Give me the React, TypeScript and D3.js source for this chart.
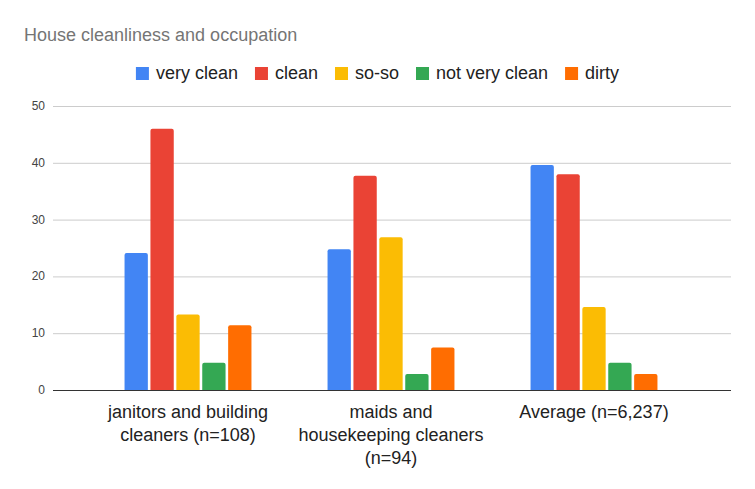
import React, { useEffect, useRef } from "react";
import * as d3 from "d3";

const categories = [
  ["janitors and building", "cleaners (n=108)"],
  ["maids and", "housekeeping cleaners", "(n=94)"],
  ["Average (n=6,237)"],
];
const seriesNames = ["very clean", "clean", "so-so", "not very clean", "dirty"];
const veryClean = [24.1, 24.8, 39.6];
const clean = [46.0, 37.7, 38.0];
const soSo = [13.3, 26.9, 14.6];
const notVeryClean = [4.8, 2.8, 4.8];
const dirty = [11.4, 7.5, 2.8];
const yTicks = [0, 10, 20, 30, 40, 50];
const colors = ["#4285F4", "#EA4335", "#FBBC04", "#34A853", "#FF6D01"];

const W = 755;
const H = 489;
const FONT = "'Liberation Sans', Arial, sans-serif";

// rounded top corners only
const barPath = (x, y, w, h, r) => {
  const rr = Math.min(r, h, w / 2);
  return `M${x},${y + h}V${y + rr}Q${x},${y} ${x + rr},${y}H${x + w - rr}Q${x + w},${y} ${x + w},${y + rr}V${y + h}Z`;
};

const App = () => {
  const ref = useRef(null);

  useEffect(() => {
    const svg = d3.select(ref.current);
    svg.selectAll("*").remove();

    const values = [veryClean, clean, soSo, notVeryClean, dirty];
    const groups = categories.map((c, i) => i);

    const left = 53, right = 731, top = 106, bottom = 390;

    const y = d3.scaleLinear().domain([0, 50]).range([bottom, top]);
    const x0 = d3.scaleBand().domain(groups).range([86.5, 695.5]).padding(0);
    const step = x0.bandwidth();
    const inner = 129.5;
    const x1 = d3
      .scaleBand()
      .domain(seriesNames)
      .range([(step - inner) / 2, (step + inner) / 2])
      .paddingInner(0.1)
      .paddingOuter(0.05);

    // title
    svg
      .append("text")
      .attr("x", 24)
      .attr("y", 41)
      .attr("font-family", FONT)
      .attr("font-size", 18)
      .attr("fill", "#757575")
      .text("House cleanliness and occupation");

    // gridlines + y labels
    const grid = svg.append("g");
    yTicks.forEach((t) => {
      if (t !== 0) {
        grid
          .append("line")
          .attr("x1", left)
          .attr("x2", right)
          .attr("y1", y(t) + 0.5)
          .attr("y2", y(t) + 0.5)
          .attr("stroke", "#cccccc");
      }
      grid
        .append("text")
        .attr("x", 45)
        .attr("y", y(t) + 4)
        .attr("text-anchor", "end")
        .attr("font-family", FONT)
        .attr("font-size", 12)
        .attr("fill", "#444444")
        .text(t);
    });

    // bars
    seriesNames.forEach((s, si) => {
      svg
        .append("g")
        .selectAll("path")
        .data(values[si])
        .join("path")
        .attr("d", (d, gi) => {
          const bx = x0(gi) + x1(s);
          return barPath(bx, y(d), x1.bandwidth(), bottom - y(d), 2);
        })
        .attr("fill", colors[si]);
    });

    // baseline
    svg
      .append("line")
      .attr("x1", left)
      .attr("x2", right)
      .attr("y1", bottom + 0.5)
      .attr("y2", bottom + 0.5)
      .attr("stroke", "#333333");

    // x labels
    categories.forEach((lines, gi) => {
      const cx = x0(gi) + step / 2;
      const t = svg
        .append("text")
        .attr("text-anchor", "middle")
        .attr("font-family", FONT)
        .attr("font-size", 18)
        .attr("fill", "#222222");
      lines.forEach((ln, li) => {
        t.append("tspan").attr("x", cx).attr("y", 418 + li * 23).text(ln);
      });
    });

    // legend, centered
    const lg = svg.append("g");
    const items = seriesNames.map((s, i) => {
      const g = lg.append("g");
      g.append("rect").attr("width", 13).attr("height", 13).attr("y", 67).attr("fill", colors[i]);
      const txt = g
        .append("text")
        .attr("x", 20)
        .attr("y", 79)
        .attr("font-family", FONT)
        .attr("font-size", 18)
        .attr("fill", "#222222")
        .text(s);
      return { g, w: 20 + txt.node().getComputedTextLength() };
    });
    const gap = 17;
    const total = d3.sum(items, (d) => d.w) + gap * (items.length - 1);
    let cur = W / 2 - total / 2;
    items.forEach((it) => {
      it.g.attr("transform", `translate(${cur},0)`);
      cur += it.w + gap;
    });
  }, []);

  return (
    <svg
      ref={ref}
      width={W}
      height={H}
      style={{ position: "absolute", left: 0, top: 0, background: "#fff" }}
    />
  );
};

export default App;
